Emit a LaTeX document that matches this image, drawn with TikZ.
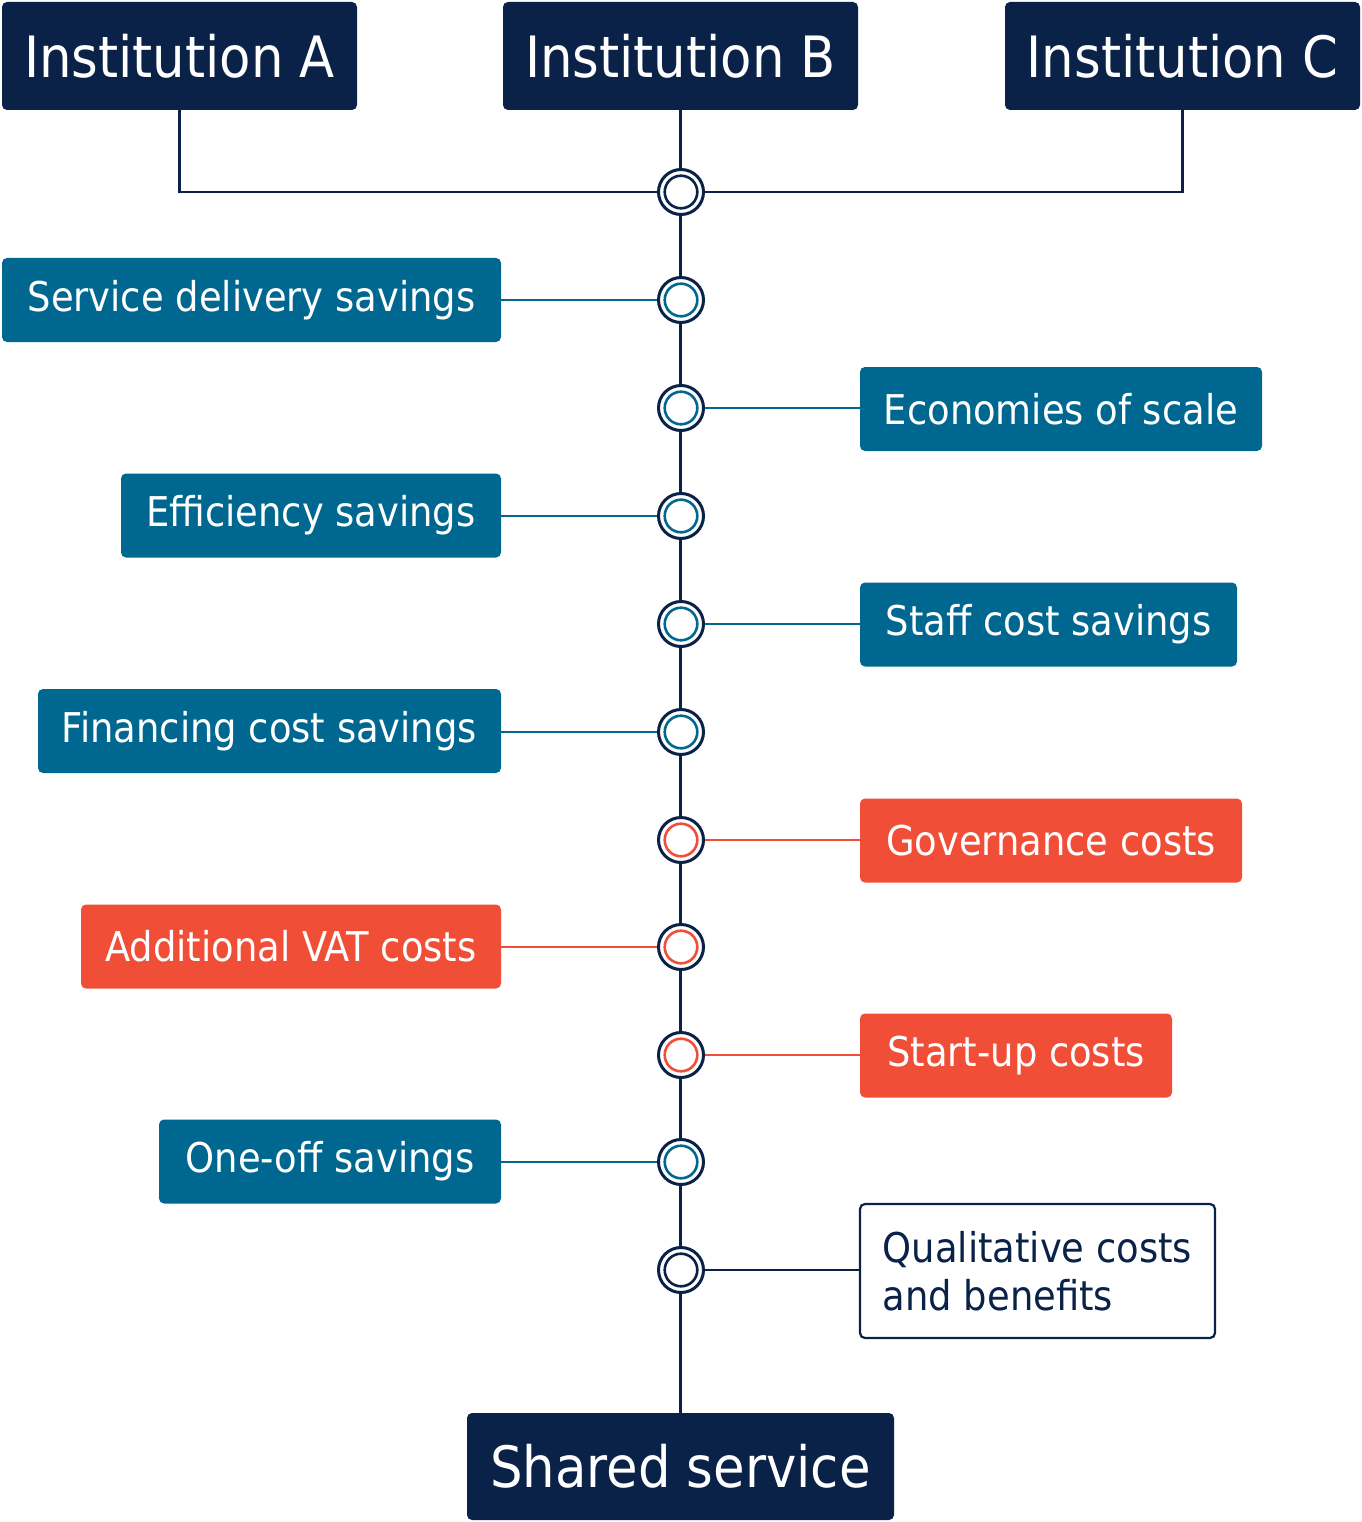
\documentclass[tikz,border=0pt]{standalone}
\usepackage{fontspec}
\setmainfont{DejaVu Sans Condensed}
\definecolor{navy}{HTML}{0A2148}
\definecolor{tealc}{HTML}{006890}
\definecolor{redc}{HTML}{F04E37}
\begin{document}
\begin{tikzpicture}[x=1pt,y=-1pt,
  box/.style={rounded corners=5pt, inner sep=0pt, text=white, font=\fontsize{41}{48}\selectfont, minimum height=84pt},
  inst/.style={box, fill=navy, font=\fontsize{57}{60}\selectfont, minimum width=355pt, minimum height=108pt},
  tbox/.style={box, fill=tealc},
  rbox/.style={box, fill=redc},
  hub/.style={circle, minimum size=45pt, inner sep=0pt, draw=navy, line width=3pt, fill=white,
    path picture={\draw[#1, line width=2.6pt] (path picture bounding box.center) circle (16.3pt);}},
  mainline/.style={draw=navy, line width=2.6pt},
  tline/.style={draw=tealc, line width=2.4pt},
  rline/.style={draw=redc, line width=2.4pt},
  nline/.style={draw=navy, line width=2.4pt}]
\fill[white] (0,0) rectangle (1361,1522);
\useasboundingbox (0,0) rectangle (1361,1522);

\node[inst] (A) at (179.5,56) {Institution A};
\node[inst] (B) at (680.5,56) {Institution B};
\node[inst] (C) at (1182.5,56) {Institution C};

\node[tbox, minimum width=499pt] (s1) at (251.5,300) {Service delivery savings};
\node[tbox, minimum width=402pt] (s2) at (1061,409) {Economies of scale};
\node[tbox, minimum width=380pt] (s3) at (311,515.5) {Efficiency savings};
\node[tbox, minimum width=377pt] (s4) at (1048.5,624.5) {Staff cost savings};
\node[tbox, minimum width=463pt] (s5) at (269.5,731) {Financing cost savings};
\node[rbox, minimum width=382pt] (s6) at (1051,840.5) {Governance costs};
\node[rbox, minimum width=420pt] (s7) at (291,946.5) {Additional VAT costs};
\node[rbox, minimum width=312pt] (s8) at (1016,1055.5) {Start-up costs};
\node[tbox, minimum width=342pt] (s9) at (330,1161.5) {One-off savings};
\node[box, text=navy, fill=white, draw=navy, line width=2.2pt, minimum width=355pt, minimum height=134pt, align=left] (s10) at (1037.5,1271) {Qualitative costs\\and benefits};

\node[box, fill=navy, font=\fontsize{57}{62}\selectfont, minimum width=427pt, minimum height=107pt] (S) at (680.5,1466.5) {Shared service};

\path[mainline] (B.south) -- (S.north);

\node[hub=navy] (h0) at (681,192) {};
\node[hub=tealc] (h1) at (681,300) {};
\node[hub=tealc] (h2) at (681,408) {};
\node[hub=tealc] (h3) at (681,516) {};
\node[hub=tealc] (h4) at (681,624) {};
\node[hub=tealc] (h5) at (681,732) {};
\node[hub=redc] (h6) at (681,840) {};
\node[hub=redc] (h7) at (681,947) {};
\node[hub=redc] (h8) at (681,1055) {};
\node[hub=tealc] (h9) at (681,1162) {};
\node[hub=navy] (h10) at (681,1270) {};

\path[mainline] (A.south) |- (h0);
\path[mainline] (C.south) |- (h0);

\path[tline] (s1.east |- h1) -- (h1);
\path[tline] (s2.west |- h2) -- (h2);
\path[tline] (s3.east |- h3) -- (h3);
\path[tline] (s4.west |- h4) -- (h4);
\path[tline] (s5.east |- h5) -- (h5);
\path[rline] (s6.west |- h6) -- (h6);
\path[rline] (s7.east |- h7) -- (h7);
\path[rline] (s8.west |- h8) -- (h8);
\path[tline] (s9.east |- h9) -- (h9);
\path[nline] (s10.west |- h10) -- (h10);
\end{tikzpicture}
\end{document}
